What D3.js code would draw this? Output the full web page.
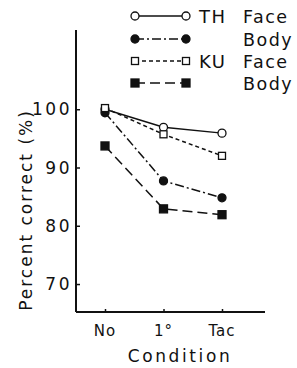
<!DOCTYPE html>
<html>
<head>
<meta charset="utf-8">
<script src="https://cdn.jsdelivr.net/npm/d3@7"></script>
<style>
  body { margin: 0; background: #fff; }
  svg text { font-family: "DejaVu Sans", sans-serif; fill: #111; }
</style>
</head>
<body>
<div id="chart"></div>
<script>
'use strict';

// data
const conditions = ['No', '1°', 'Tac'];
const thFace = [100.0, 96.9, 95.9];
const thBody = [99.4, 87.7, 84.8];
const kuFace = [100.2, 95.7, 92.0];
const kuBody = [93.7, 82.9, 81.9];
const yTicks = [70, 80, 90, 100];

const series = [
    { group: 'TH', name: 'Face', values: thFace, marker: 'circle', fill: '#fff', dash: null },
    { group: '',   name: 'Body', values: thBody, marker: 'circle', fill: '#111', dash: '9,3,2,3' },
    { group: 'KU', name: 'Face', values: kuFace, marker: 'square', fill: '#fff', dash: '4,3' },
    { group: '',   name: 'Body', values: kuBody, marker: 'square', fill: '#111', dash: '10,5' }
];

const width = 297, height = 368;
const svg = d3.select('#chart').append('svg')
    .attr('width', width)
    .attr('height', height);

const x = d3.scalePoint().domain(conditions).range([105, 222]);
const y = d3.scaleLinear().domain([65.2, 113.6]).range([312, 30]);

// y axis: plain line with short inward ticks
const yAxis = d3.axisRight(y).tickValues(yTicks).tickSize(4).tickFormat('');
svg.append('g')
    .attr('transform', 'translate(76,0)')
    .call(yAxis)
    .call(g => g.select('.domain').remove())
    .call(g => g.selectAll('line').attr('stroke', '#111').attr('stroke-width', 1.5));

svg.append('line')
    .attr('x1', 76).attr('x2', 76)
    .attr('y1', y.range()[1]).attr('y2', y.range()[0])
    .attr('stroke', '#111').attr('stroke-width', 2);

svg.append('line')
    .attr('x1', 76).attr('x2', 265)
    .attr('y1', 312).attr('y2', 312)
    .attr('stroke', '#111').attr('stroke-width', 2);

const xAxis = d3.axisTop(x).tickSize(3).tickFormat('');
svg.append('g')
    .attr('transform', 'translate(0,312)')
    .call(xAxis)
    .call(g => g.select('.domain').remove())
    .call(g => g.selectAll('line').attr('stroke', '#111').attr('stroke-width', 1.5));

// tick labels
svg.selectAll('.ylab').data(yTicks).join('text')
    .attr('class', 'ylab')
    .attr('x', 72).attr('y', d => y(d) + 6)
    .attr('text-anchor', 'end')
    .attr('font-size', 17)
    .attr('letter-spacing', 2.5)
    .text(d => d);

svg.selectAll('.xlab').data(conditions).join('text')
    .attr('class', 'xlab')
    .attr('x', d => x(d)).attr('y', 336)
    .attr('text-anchor', 'middle')
    .attr('font-size', 15)
    .attr('letter-spacing', 1)
    .text(d => d);

svg.append('text')
    .attr('x', 180).attr('y', 362)
    .attr('text-anchor', 'middle')
    .attr('font-size', 17)
    .attr('letter-spacing', 2.6)
    .text('Condition');

svg.append('text')
    .attr('transform', 'translate(32,210) rotate(-90)')
    .attr('text-anchor', 'middle')
    .attr('font-size', 17)
    .attr('letter-spacing', 2)
    .text('Percent correct (%)');

function drawMarker(g, s, cx, cy) {
    if (s.marker === 'circle') {
        g.append('circle')
            .attr('cx', cx).attr('cy', cy).attr('r', 4)
            .attr('fill', s.fill).attr('stroke', '#111').attr('stroke-width', 1.3);
    } else {
        const sz = s.fill === '#fff' ? 7 : 8;
        g.append('rect')
            .attr('x', cx - sz / 2).attr('y', cy - sz / 2)
            .attr('width', sz).attr('height', sz)
            .attr('fill', s.fill).attr('stroke', '#111').attr('stroke-width', 1.3);
    }
}

const line = d3.line()
    .x((d, i) => x(conditions[i]))
    .y(d => y(d));

series.forEach(s => {
    const g = svg.append('g');
    g.append('path')
        .attr('d', line(s.values))
        .attr('fill', 'none')
        .attr('stroke', '#111')
        .attr('stroke-width', 1.5)
        .attr('stroke-dasharray', s.dash);
    s.values.forEach((v, i) => drawMarker(g, s, x(conditions[i]), y(v)));
});

// legend
const legendRows = [16, 39, 61, 83];
series.forEach((s, i) => {
    const g = svg.append('g');
    const ly = legendRows[i];
    g.append('line')
        .attr('x1', 135).attr('x2', 186)
        .attr('y1', ly).attr('y2', ly)
        .attr('stroke', '#111').attr('stroke-width', 1.5)
        .attr('stroke-dasharray', s.dash);
    drawMarker(g, s, 135, ly);
    drawMarker(g, s, 186, ly);
    if (s.group) {
        g.append('text')
            .attr('x', 199).attr('y', ly + 7)
            .attr('font-size', 18)
            .attr('letter-spacing', 1.5)
            .text(s.group);
    }
    g.append('text')
        .attr('x', 243).attr('y', ly + 7)
        .attr('font-size', 17.5)
        .attr('letter-spacing', 1.5)
        .text(s.name);
});
</script>
</body>
</html>
